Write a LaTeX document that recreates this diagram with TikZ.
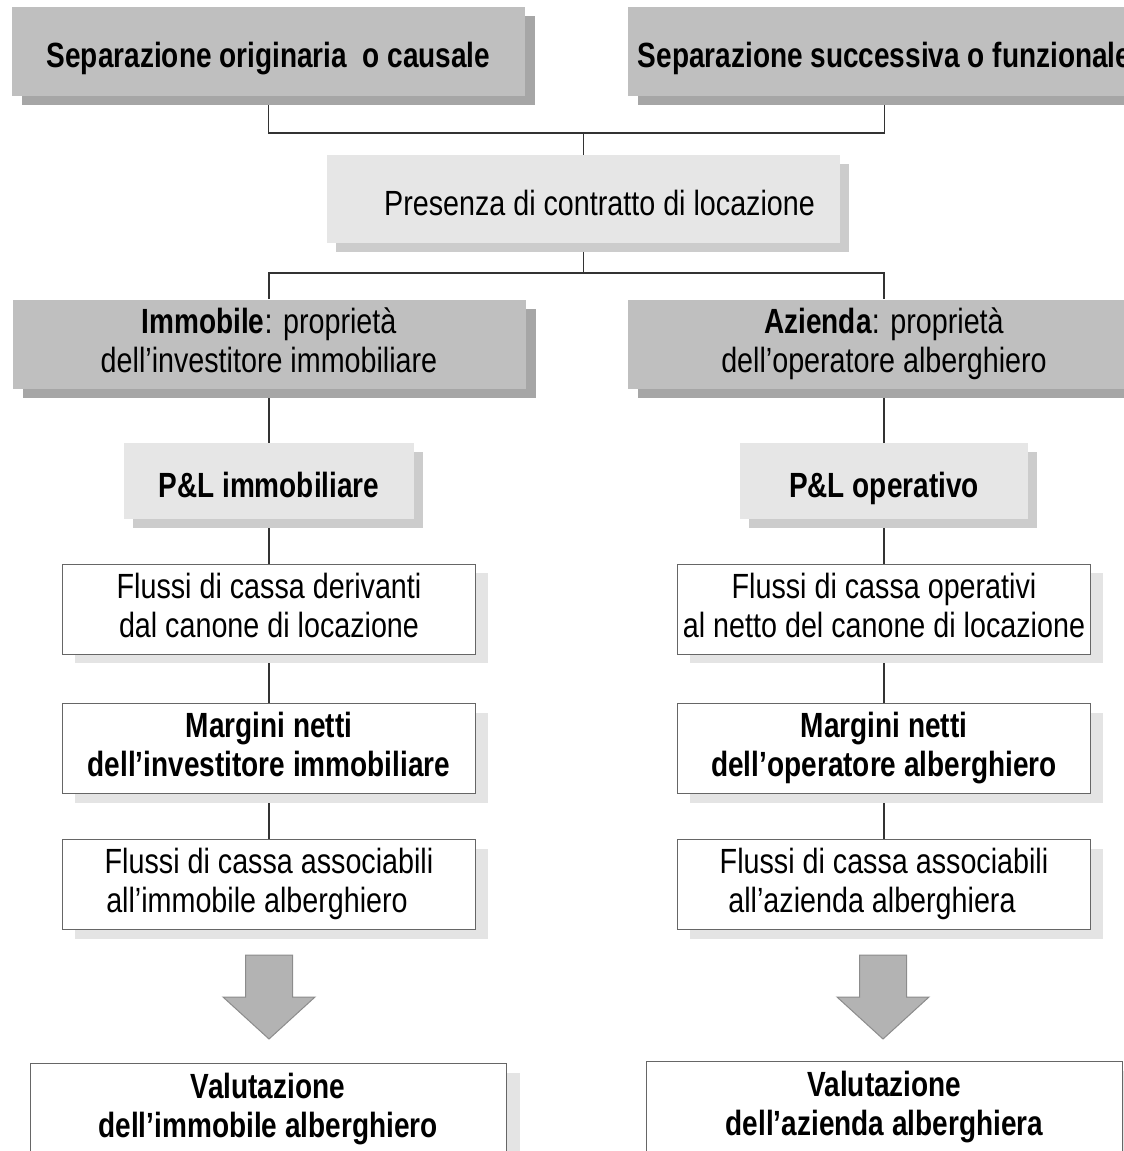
\documentclass[tikz,border=0pt]{standalone}
\usepackage{fontspec}
\setmainfont{Liberation Sans}[FakeStretch=0.82, BoldFeatures={FakeStretch=0.8}]
\usetikzlibrary{shadows,backgrounds}

\definecolor{darkfill}{HTML}{BFBFBF}
\definecolor{darkshade}{HTML}{A6A6A6}
\definecolor{lightfill}{HTML}{E6E6E6}
\definecolor{lightshade}{HTML}{CCCCCC}
\definecolor{paleshade}{HTML}{E4E4E4}
\definecolor{arrowfill}{HTML}{B3B3B3}

\newcommand{\boxstrut}{\rule[-3.7pt]{0pt}{23.5pt}}

\tikzset{
  base/.style={align=center, inner sep=0pt, text=black,
    font=\fontsize{17.5}{19.5}\selectfont,
    execute at begin node=\boxstrut, execute at end node=\boxstrut},
  darkbox/.style={base, fill=darkfill, minimum width=256.5pt, minimum height=44.5pt,
    drop shadow={shadow xshift=5pt, shadow yshift=-4.5pt, fill=darkshade, opacity=1}},
  lightbox/.style={base, fill=lightfill,
    drop shadow={shadow xshift=4.5pt, shadow yshift=-4.5pt, fill=lightshade, opacity=1}},
  cashbox/.style={base, fill=white, draw=black!60, line width=0.5pt,
    minimum width=206.5pt, minimum height=45pt,
    drop shadow={shadow xshift=6pt, shadow yshift=-4.5pt, fill=paleshade, opacity=1}},
  valbox/.style={base, fill=white, draw=black!60, line width=0.5pt,
    minimum width=238pt, minimum height=46pt,
    drop shadow={shadow xshift=7pt, shadow yshift=-5pt, fill=paleshade, opacity=1}},
  link/.style={draw=black!80, line width=0.6pt},
  bigarrow/.style={fill=arrowfill, draw=black!45, line width=0.5pt}
}

\begin{document}
\begin{tikzpicture}[x=0.5pt, y=-0.5pt]
  \useasboundingbox (0,0) rectangle (1124,1151);
  \clip (0,0) rectangle (1124,1151);

  % Tipi di separazione
  \node[darkbox] (sepA) at (268.5,51.5) {\textbf{Separazione originaria~ o causale}};
  \node[darkbox] (sepB) at (884.5,51.5) {\textbf{Separazione successiva o funzionale}};
  \node[lightbox, minimum width=256.5pt, minimum height=44pt] (pres) at (583.5,199)
    {\hspace*{16pt}Presenza di contratto di locazione};

  % Proprieta
  \node[darkbox] (imm) at (269,344) {\textbf{Immobile}: proprietà\\dell’investitore immobiliare};
  \node[darkbox] (azi) at (884,344) {\textbf{Azienda}: proprietà\\dell’operatore alberghiero};

  % Conti economici
  \node[lightbox, minimum width=145pt, minimum height=38pt] (plA) at (269,481) {\textbf{P\&L immobiliare}};
  \node[lightbox, minimum width=144pt, minimum height=38pt] (plB) at (884,481) {\textbf{P\&L operativo}};

  % Flussi e margini
  \node[cashbox] (fcA) at (269,609) {Flussi di cassa derivanti\\dal canone di locazione};
  \node[cashbox] (fcB) at (884,609) {Flussi di cassa operativi\\al netto del canone di locazione};
  \node[cashbox] (mnA) at (269,748.5) {\textbf{Margini netti}\\\textbf{dell’investitore immobiliare}};
  \node[cashbox] (mnB) at (884,748.5) {\textbf{Margini netti}\\\textbf{dell’operatore alberghiero}};
  \node[cashbox] (faA) at (269,884.5) {Flussi di cassa associabili\\all’immobile alberghiero\hspace*{12pt}};
  \node[cashbox] (faB) at (884,884.5) {Flussi di cassa associabili\\all’azienda alberghiera\hspace*{12pt}};

  % Valutazioni
  \node[valbox] (vaA) at (268,1109) {\textbf{Valutazione}\\\textbf{dell’immobile alberghiero}};
  \node[valbox] (vaB) at (884.5,1107) {\textbf{Valutazione}\\\textbf{dell’azienda alberghiera}};

  % Frecce grandi
  \foreach \x in {269,883}
    \draw[bigarrow] (\x-23.5,955) -- (\x+23.5,955) -- (\x+23.5,997) -- (\x+46,997)
      -- (\x,1039) -- (\x-46,997) -- (\x-23.5,997) -- cycle;

  % Collegamenti
  \begin{scope}[on background layer]
    \coordinate (j1) at (583.5,133);
    \coordinate (j2) at (583.5,273);
    \draw[link] (sepA.south) |- (j1) -| (sepB.south);
    \draw[link] (j1) -- (pres.north);
    \draw[link] (pres.south) -- (j2);
    \draw[link] (imm.north) |- (j2) -| (azi.north);
    \draw[link] (imm) -- (plA) -- (fcA) -- (mnA) -- (faA);
    \draw[link] (azi) -- (plB) -- (fcB) -- (mnB) -- (faB);
  \end{scope}
\end{tikzpicture}
\end{document}
